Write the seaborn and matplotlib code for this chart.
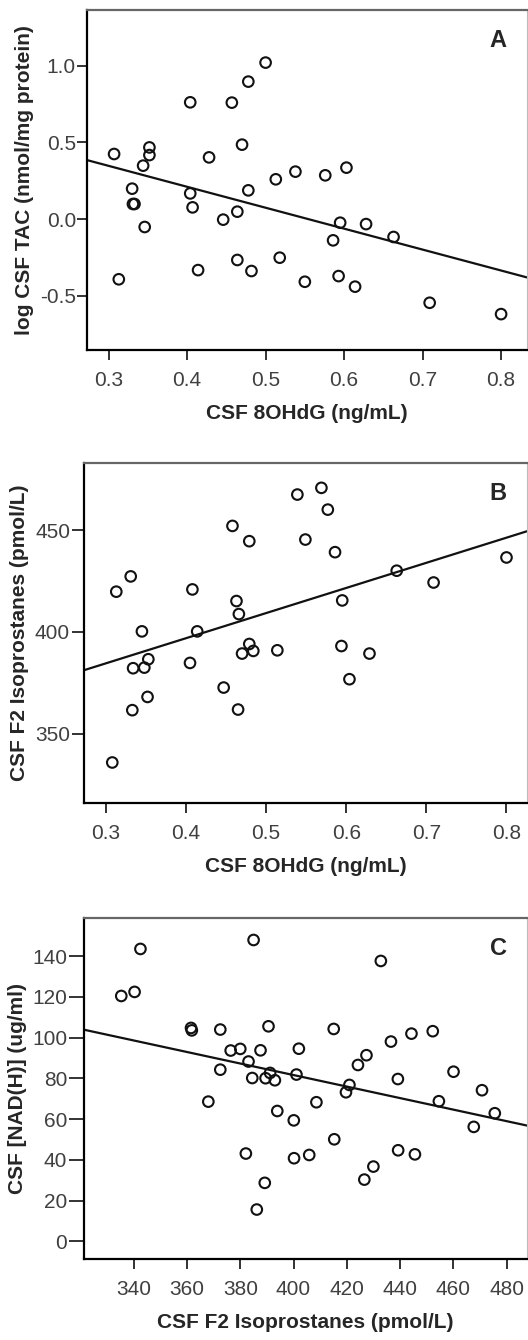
import matplotlib
matplotlib.use("Agg")
import matplotlib.pyplot as plt
import seaborn as sns
import numpy as np

# panel A: CSF 8OHdG vs log CSF TAC
ohdg_a = [0.307, 0.313, 0.330, 0.331, 0.333, 0.344, 0.346, 0.352, 0.352, 0.404,
          0.404, 0.407, 0.414, 0.428, 0.446, 0.457, 0.464, 0.464, 0.470, 0.478,
          0.478, 0.482, 0.500, 0.513, 0.518, 0.538, 0.550, 0.576, 0.586, 0.593,
          0.595, 0.603, 0.614, 0.628, 0.663, 0.709, 0.800]
tac_a = [0.424, -0.393, 0.198, 0.098, 0.098, 0.348, -0.052, 0.467, 0.417, 0.761,
         0.167, 0.076, -0.333, 0.402, -0.004, 0.759, 0.048, -0.267, 0.485, 0.896,
         0.187, -0.339, 1.020, 0.259, -0.252, 0.309, -0.409, 0.285, -0.139, -0.372,
         -0.024, 0.335, -0.441, -0.033, -0.117, -0.546, -0.620]

# panel B: CSF 8OHdG vs CSF F2 isoprostanes
ohdg_b = [0.308, 0.313, 0.331, 0.333, 0.334, 0.345, 0.348, 0.353, 0.352, 0.405,
          0.408, 0.414, 0.447, 0.458, 0.463, 0.466, 0.465, 0.470, 0.479, 0.479,
          0.484, 0.514, 0.539, 0.549, 0.569, 0.577, 0.586, 0.594, 0.595, 0.604,
          0.629, 0.663, 0.709, 0.800]
iso_b = [335.9, 419.8, 427.3, 361.6, 382.2, 400.3, 382.5, 386.6, 368.1, 384.8,
         420.9, 400.3, 372.7, 452.1, 415.2, 408.8, 361.9, 389.4, 444.6, 394.1,
         390.7, 391.0, 467.5, 445.4, 470.8, 460.1, 439.2, 393.1, 415.5, 376.8,
         389.4, 430.1, 424.3, 436.6]

# panel C: CSF F2 isoprostanes vs CSF [NAD(H)]
iso_c = [335.3, 340.3, 342.5, 361.5, 361.8, 368.0, 372.5, 372.5, 376.4, 380.0,
         382.1, 383.1, 384.5, 385.0, 386.2, 387.6, 389.2, 389.5, 390.6, 391.2,
         393.0, 393.9, 400.1, 400.2, 401.1, 402.0, 405.9, 408.6, 415.1, 415.3,
         419.7, 421.0, 424.2, 426.6, 427.4, 430.0, 432.8, 436.6, 439.2, 439.3,
         444.3, 445.6, 452.3, 454.6, 460.1, 467.7, 470.8, 475.6]
nad_c = [120.5, 122.5, 143.6, 104.8, 103.6, 68.6, 104.0, 84.3, 93.7, 94.5,
         43.1, 88.3, 80.2, 148.0, 15.6, 93.8, 28.7, 80.1, 105.6, 82.7,
         79.1, 64.0, 59.4, 40.8, 81.9, 94.6, 42.4, 68.3, 104.3, 50.1,
         73.2, 76.8, 86.6, 30.3, 91.4, 36.7, 137.7, 98.1, 79.7, 44.7,
         102.0, 42.7, 103.2, 68.8, 83.3, 56.2, 74.2, 62.9]

sns.set_style("white")
plt.rcParams['font.family'] = ['Liberation Sans', 'DejaVu Sans']
plt.rcParams['axes.unicode_minus'] = False

W, H = 528, 1340
fig = plt.figure(figsize=(W / 100, H / 100), dpi=100)


def make_axes(left, top, right, bottom):
    return fig.add_axes([left / W, 1 - bottom / H, (right - left) / W, (bottom - top) / H])


def panel(ax, x, y, xlim, ylim, xticks, yticks, fmt, xlabel, ylabel, letter, ylen):
    ax.set_xlim(xlim)
    ax.set_ylim(ylim)
    sns.regplot(x=np.array(x), y=np.array(y), ax=ax, ci=None, truncate=False,
                scatter_kws=dict(s=58, facecolors='none', edgecolors='#111111',
                                 linewidths=1.5, alpha=1),
                line_kws=dict(color='#111111', lw=1.6))
    ax.set_xlim(xlim)
    ax.set_ylim(ylim)
    ax.set_xticks(xticks)
    ax.set_yticks(yticks)
    ax.set_xticklabels([fmt[0] % v for v in xticks])
    ax.set_yticklabels([fmt[1] % v for v in yticks])
    ax.tick_params(axis='both', direction='out', width=1.4,
                   color='#333333', labelsize=15, labelcolor='#404040',
                   left=True, bottom=True)
    ax.tick_params(axis='x', pad=8, length=7)
    ax.tick_params(axis='y', pad=1, length=ylen)
    for side in ['left', 'bottom']:
        ax.spines[side].set_linewidth(1.6)
        ax.spines[side].set_color('black')
    ax.spines['top'].set_linewidth(1.6)
    ax.spines['top'].set_color('#666666')
    ax.spines['right'].set_linewidth(0.8)
    ax.spines['right'].set_color('#bbbbbb')
    ax.set_xlabel(xlabel, fontsize=15, fontweight='bold', labelpad=10)
    ax.set_ylabel(ylabel, fontsize=15, fontweight='bold', labelpad=4)
    ax.text(0.935, 0.91, letter, transform=ax.transAxes, fontsize=17,
            fontweight='bold', ha='center', va='center')


ax_a = make_axes(87, 10, 527, 350)
panel(ax_a, ohdg_a, tac_a, (0.2725, 0.833), (-0.854, 1.363),
      [0.3, 0.4, 0.5, 0.6, 0.7, 0.8], [-0.5, 0.0, 0.5, 1.0], ('%.1f', '%.1f'),
      'CSF 8OHdG (ng/mL)', 'log CSF TAC (nmol/mg protein)', 'A', 7)

ax_b = make_axes(84, 463, 527, 803)
panel(ax_b, ohdg_b, iso_b, (0.2727, 0.8256), (316.0, 483.0),
      [0.3, 0.4, 0.5, 0.6, 0.7, 0.8], [350, 400, 450], ('%.1f', '%d'),
      'CSF 8OHdG (ng/mL)', 'CSF F2 Isoprostanes (pmol/L)', 'B', 9)

ax_c = make_axes(84, 918, 527, 1259)
panel(ax_c, iso_c, nad_c, (321.3, 487.7), (-8.7, 158.8),
      [340, 360, 380, 400, 420, 440, 460, 480], list(range(0, 141, 20)), ('%d', '%d'),
      'CSF F2 Isoprostanes (pmol/L)', 'CSF [NAD(H)] (ug/ml)', 'C', 11)

fig.savefig('out.png', dpi=100)
